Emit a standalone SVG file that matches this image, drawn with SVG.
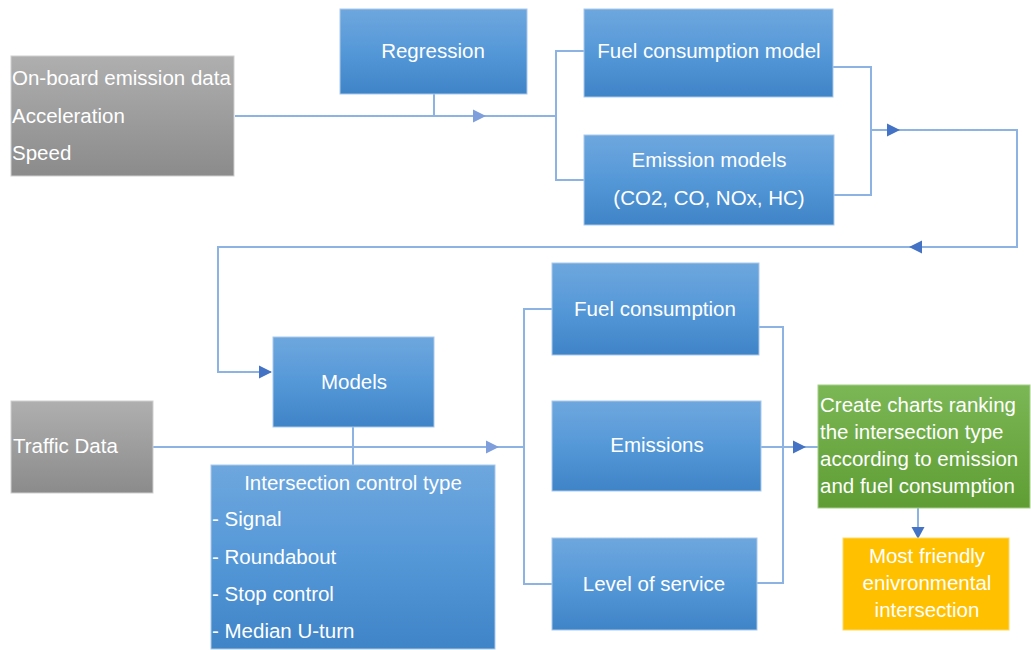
<svg xmlns="http://www.w3.org/2000/svg" width="1031" height="650" viewBox="0 0 1031 650">
<defs>
<linearGradient id="gBlue" x1="0" y1="0" x2="0" y2="1"><stop offset="0" stop-color="#6ea7de"/><stop offset="0.5" stop-color="#5598d8"/><stop offset="1" stop-color="#3f84c7"/></linearGradient>
<linearGradient id="gGray" x1="0" y1="0" x2="0" y2="1"><stop offset="0" stop-color="#afafaf"/><stop offset="1" stop-color="#8b8b8b"/></linearGradient>
<linearGradient id="gGreen" x1="0" y1="0" x2="0" y2="1"><stop offset="0" stop-color="#7bb755"/><stop offset="1" stop-color="#5f9d34"/></linearGradient>
<polygon id="arR" points="0,-6.5 13,0 0,6.5"/>
<polygon id="arL" points="0,-6.5 -13,0 0,6.5"/>
<polygon id="arD" points="-6.5,0 6.5,0 0,12"/>
</defs>
<style>
.blue{fill:url(#gBlue);stroke:#a9c9ea;stroke-width:1}
.gray{fill:url(#gGray);stroke:#cfcfcf;stroke-width:1}
.green{fill:url(#gGreen);stroke:#a4cf8a;stroke-width:1}
.yellow{fill:#ffc000;stroke:#ffd966;stroke-width:1}
text{font-family:"Liberation Sans",Arial,sans-serif;font-size:20.5px;fill:#ffffff}
.c{text-anchor:middle}
.ln{fill:none;stroke:#8db3e2;stroke-width:2}
.ah1{fill:#7f9fdc}
.ah2{fill:#4472c4}
</style>
<rect width="1031" height="650" fill="#ffffff"/>

<g id="connectors">
<path class="ln" d="M235,116 H556"/>
<path class="ln" d="M434,94 V116"/>
<path class="ln" d="M584,51 H556 V180 H584"/>
<path class="ln" d="M833,67 H871 V195 H834"/>
<path class="ln" d="M871,130 H1017 V247 H218 V372 H271"/>
<path class="ln" d="M153,447 H524"/>
<path class="ln" d="M353,427 V465"/>
<path class="ln" d="M552,309 H524 V584 H552"/>
<path class="ln" d="M759,327 H783 V583 H757"/>
<path class="ln" d="M761,447 H818"/>
<path class="ln" d="M918,508 V530"/>
<use href="#arR" class="ah1" x="473" y="116"/>
<use href="#arR" class="ah2" x="887" y="130"/>
<use href="#arL" class="ah2" x="922" y="247"/>
<use href="#arR" class="ah2" x="259" y="372"/>
<use href="#arR" class="ah1" x="486" y="447"/>
<use href="#arR" class="ah2" x="793" y="447"/>
<use href="#arD" class="ah2" x="918" y="527"/>
</g>

<g id="onboard">
<rect class="gray" x="11" y="56" width="223" height="120"/>
<text x="12" y="85">On-board emission data</text>
<text x="12" y="123">Acceleration</text>
<text x="12" y="160">Speed</text>
</g>

<g id="regression">
<rect class="blue" x="340" y="9" width="187" height="85"/>
<text class="c" x="433" y="58">Regression</text>
</g>

<g id="fuel-model">
<rect class="blue" x="584" y="9" width="249" height="88"/>
<text class="c" x="709" y="58">Fuel consumption model</text>
</g>

<g id="emission-models">
<rect class="blue" x="584" y="135" width="250" height="90"/>
<text class="c" x="709" y="167">Emission models</text>
<text class="c" x="709" y="205">(CO2, CO, NOx, HC)</text>
</g>

<g id="models">
<rect class="blue" x="273" y="337" width="161" height="90"/>
<text class="c" x="354" y="389">Models</text>
</g>

<g id="traffic">
<rect class="gray" x="11" y="401" width="142" height="92"/>
<text x="13" y="453">Traffic Data</text>
</g>

<g id="intersection">
<rect class="blue" x="211" y="465" width="284" height="184"/>
<text class="c" x="353" y="490">Intersection control type</text>
<text x="212" y="526">- Signal</text>
<text x="212" y="564">- Roundabout</text>
<text x="212" y="601">- Stop control</text>
<text x="212" y="638">- Median U-turn</text>
</g>

<g id="fuel-consumption">
<rect class="blue" x="552" y="263" width="207" height="92"/>
<text class="c" x="655" y="316">Fuel consumption</text>
</g>

<g id="emissions">
<rect class="blue" x="552" y="401" width="209" height="90"/>
<text class="c" x="657" y="452">Emissions</text>
</g>

<g id="los">
<rect class="blue" x="552" y="538" width="205" height="92"/>
<text class="c" x="654" y="591">Level of service</text>
</g>

<g id="charts">
<rect class="green" x="818" y="385" width="212" height="123"/>
<text x="820" y="412">Create charts ranking</text>
<text x="820" y="439">the intersection type</text>
<text x="820" y="466">according to emission</text>
<text x="820" y="493">and fuel consumption</text>
</g>

<g id="friendly">
<rect class="yellow" x="843" y="538" width="166" height="92"/>
<text class="c" x="927" y="563">Most friendly</text>
<text class="c" x="927" y="590">enivronmental</text>
<text class="c" x="927" y="617">intersection</text>
</g>
</svg>
